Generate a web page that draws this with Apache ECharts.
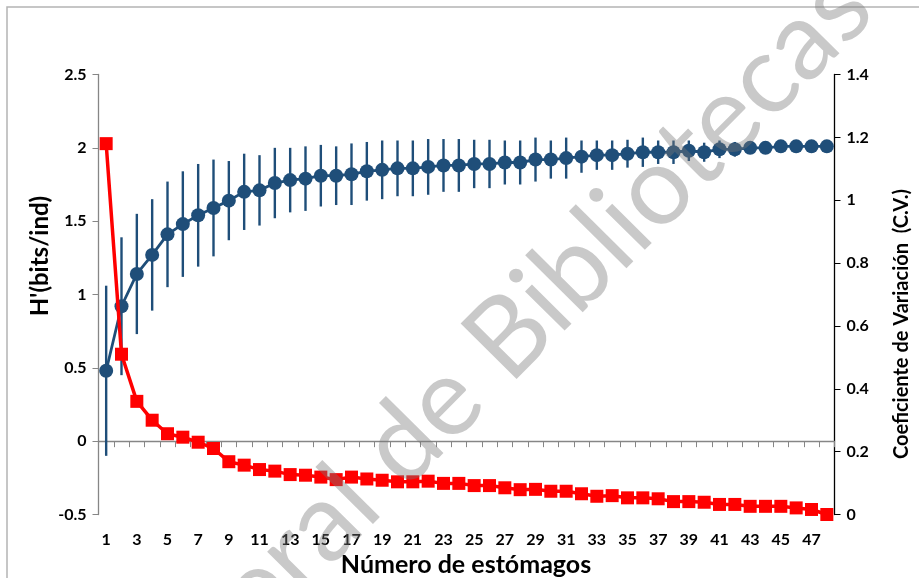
<!DOCTYPE html>
<html>
<head>
<meta charset="utf-8">
<title>H' y coeficiente de variación</title>
<script src="https://cdn.jsdelivr.net/npm/echarts@6/dist/echarts.min.js"></script>
<style>
  html, body { margin: 0; padding: 0; background: #fff; }
  #chart { width: 919px; height: 578px; }
</style>
</head>
<body>
<div id="chart"></div>
<script>
// número de estómagos
const categories = ['1','2','3','4','5','6','7','8','9','10','11','12','13','14','15','16',
  '17','18','19','20','21','22','23','24','25','26','27','28','29','30','31','32',
  '33','34','35','36','37','38','39','40','41','42','43','44','45','46','47','48'];

// H' medio (bits/ind)
const hMean = [0.48, 0.92, 1.14, 1.27, 1.41, 1.48, 1.54, 1.59, 1.64, 1.70, 1.71, 1.76,
  1.78, 1.79, 1.81, 1.81, 1.82, 1.84, 1.85, 1.86, 1.86, 1.87, 1.88, 1.88,
  1.89, 1.89, 1.90, 1.90, 1.92, 1.92, 1.93, 1.94, 1.95, 1.95, 1.96, 1.97,
  1.97, 1.97, 1.98, 1.97, 1.99, 1.99, 2.00, 2.00, 2.01, 2.01, 2.01, 2.01];

// desviación (barras de error)
const hErr = [0.58, 0.47, 0.41, 0.38, 0.36, 0.36, 0.35, 0.33, 0.27, 0.26, 0.24, 0.24,
  0.22, 0.22, 0.21, 0.20, 0.21, 0.20, 0.20, 0.19, 0.19, 0.19, 0.18, 0.18,
  0.165, 0.165, 0.15, 0.15, 0.15, 0.13, 0.14, 0.11, 0.10, 0.10, 0.095, 0.10,
  0.08, 0.08, 0.07, 0.065, 0.06, 0.05, 0.03, 0.025, 0.02, 0.015, 0.01, 0.005];

// coeficiente de variación
const cv = [1.18, 0.51, 0.36, 0.30, 0.257, 0.246, 0.23, 0.21, 0.168, 0.157, 0.143, 0.138,
  0.127, 0.125, 0.119, 0.111, 0.119, 0.113, 0.109, 0.104, 0.104, 0.106, 0.099, 0.099,
  0.092, 0.092, 0.085, 0.079, 0.08, 0.074, 0.074, 0.066, 0.058, 0.06, 0.053, 0.053,
  0.05, 0.041, 0.041, 0.039, 0.032, 0.032, 0.026, 0.026, 0.026, 0.021, 0.016, 0.0];

const BLUE = '#1F4E79';
const RED = '#FF0000';
const FONT = 'Lato, "Open Sans", sans-serif';

const myChart = echarts.init(document.getElementById('chart'));

const errData = categories.map((c, i) => [i, hMean[i], hErr[i]]);

const option = {
  backgroundColor: '#fff',
  animation: false,
  textStyle: { fontFamily: FONT },
  grid: { left: 98.5, right: 84.5, top: 74.5, bottom: 63.5, containLabel: false },
  xAxis: {
    type: 'category',
    data: categories,
    boundaryGap: true,
    axisLine: { lineStyle: { color: '#868686', width: 1.3 } },
    axisTick: { show: true, interval: 0, length: 6, lineStyle: { color: '#868686' } },
    axisLabel: { interval: 1, margin: 17, color: '#000', fontWeight: 'bold', fontSize: 16, fontFamily: FONT },
    splitLine: { show: false }
  },
  yAxis: [
    {
      type: 'value', min: -0.5, max: 2.5, interval: 0.5,
      axisLine: { show: true, lineStyle: { color: '#868686', width: 1.3 } },
      axisTick: { show: true, length: 6, lineStyle: { color: '#868686' } },
      axisLabel: { margin: 12, color: '#000', fontWeight: 'bold', fontSize: 16, fontFamily: FONT },
      splitLine: { show: false }
    },
    {
      type: 'value', min: 0, max: 1.4, interval: 0.2,
      position: 'right',
      axisLine: { show: true, lineStyle: { color: '#000', width: 1.3 } },
      axisTick: { show: true, length: 6, lineStyle: { color: '#000' } },
      axisLabel: { margin: 12, color: '#000', fontWeight: 'bold', fontSize: 16, fontFamily: FONT },
      splitLine: { show: false }
    }
  ],
  series: [
    {
      name: 'err',
      type: 'custom',
      yAxisIndex: 0,
      encode: { x: 0, y: [1, 2] },
      data: errData,
      z: 2,
      renderItem: function (params, api) {
        const x = api.value(0), m = api.value(1), e = api.value(2);
        const top = api.coord([x, m + e]);
        const bot = api.coord([x, m - e]);
        return {
          type: 'line',
          shape: { x1: top[0], y1: top[1], x2: bot[0], y2: bot[1] },
          style: { stroke: BLUE, lineWidth: 2.4 }
        };
      }
    },
    {
      name: "H'",
      type: 'line',
      yAxisIndex: 0,
      data: hMean,
      symbol: 'circle',
      symbolSize: 14,
      showAllSymbol: true,
      z: 3,
      lineStyle: { color: BLUE, width: 2.8 },
      itemStyle: { color: BLUE }
    },
    {
      name: 'C.V.',
      type: 'line',
      yAxisIndex: 1,
      data: cv,
      symbol: 'rect',
      symbolSize: 13,
      showAllSymbol: true,
      z: 4,
      lineStyle: { color: RED, width: 3.5 },
      itemStyle: { color: RED }
    }
  ],
  graphic: [
    {
      type: 'rect', z: 0, silent: true,
      shape: { x: 7, y: 7, width: 1000, height: 1000 },
      style: { fill: 'none', stroke: '#B4B4B4', lineWidth: 1.5 }
    },
    {
      type: 'text', x: 40, y: 256, rotation: Math.PI / 2, z: 10,
      style: { text: "H'(bits/ind)", font: 'bold 24px ' + FONT, fill: '#000', textAlign: 'center', textVerticalAlign: 'middle' }
    },
    {
      type: 'text', x: 902, y: 324, rotation: Math.PI / 2, z: 10,
      style: { text: 'Coeficiente de Variación  (C.V.)', font: 'bold 20px ' + FONT, fill: '#000', textAlign: 'center', textVerticalAlign: 'middle' }
    },
    {
      type: 'text', x: 466, y: 565, z: 10,
      style: { text: 'Número de estómagos', font: 'bold 25px ' + FONT, fill: '#000', textAlign: 'center', textVerticalAlign: 'middle' }
    },
    {
      type: 'text', x: 892, y: 28, rotation: 0.79, z: 100, silent: true,
      style: { text: 'Dirección General de Bibliotecas', font: '110px Lato, sans-serif', fill: 'rgba(120,120,120,0.4)', textAlign: 'right', textVerticalAlign: 'bottom' }
    }
  ]
};

myChart.setOption(option);
</script>
</body>
</html>
